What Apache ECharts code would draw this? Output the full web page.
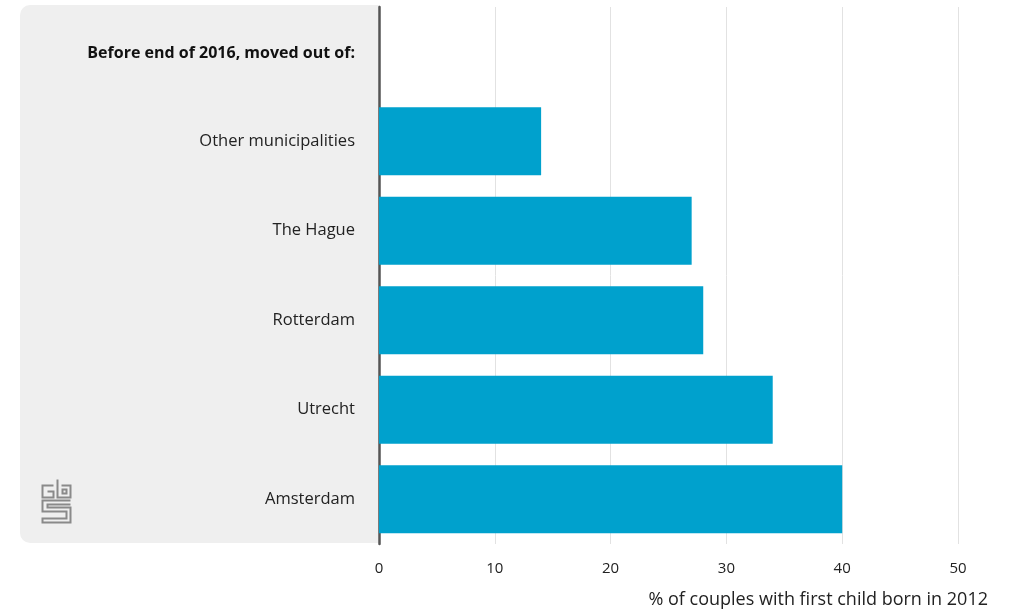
<!DOCTYPE html>
<html><head><meta charset="utf-8">
<script src="https://cdn.jsdelivr.net/npm/echarts@6/dist/echarts.min.js"></script>
<style>html,body{margin:0;padding:0;background:#fff}#c{width:1009px;height:611px}</style>
</head><body><div id="c"></div>
<script>
const headerLabel = 'Before end of 2016, moved out of:';
const categories = [headerLabel, 'Other municipalities', 'The Hague', 'Rotterdam', 'Utrecht', 'Amsterdam'];
const values = [null, 14, 27, 28, 34, 40];
const xTicks = [0, 10, 20, 30, 40, 50];
const xTitle = '% of couples with first child born in 2012';

const chart = echarts.init(document.getElementById('c'));
const FONT = 'Open Sans';
const GRID = {left: 379, right: 51, top: 7, bottom: 67};
chart.setOption({
  animation: false,
  textStyle: {fontFamily: FONT},
  graphic: [
    {type: 'rect', z: -10, shape: {x: 20, y: 5, width: 380, height: 538, r: 10}, style: {fill: '#efefef'}},
    {type: 'rect', z: -9, shape: {x: 380, y: 0, width: 40, height: 611}, style: {fill: '#fff'}},
    {type: 'group', left: 40, top: 477, children: [
      {type: 'polyline', shape: {points: [[12,6],[1,6],[1,18],[12,18],[12,12],[6,12]]}, style: {stroke: '#8a8a8a', lineWidth: 2, fill: null}},
      {type: 'polyline', shape: {points: [[16,0],[16,18],[29,18],[29,6],[20,6]]}, style: {stroke: '#8a8a8a', lineWidth: 2, fill: null}},
      {type: 'rect', shape: {x: 21, y: 10, width: 4, height: 4}, style: {stroke: '#8a8a8a', lineWidth: 2, fill: null}},
      {type: 'polyline', shape: {points: [[29,21],[1,21],[1,32],[25,32],[25,39],[1,39],[1,43],[29,43],[29,28],[6,28],[6,25],[29,25]]}, style: {stroke: '#8a8a8a', lineWidth: 2, fill: null}}
    ]},
    {type: 'text', right: 21, top: 591, style: {text: xTitle, font: '18px "Open Sans"', fill: '#222'}}
  ],
  grid: GRID,
  xAxis: {
    type: 'value', min: xTicks[0], max: xTicks[xTicks.length - 1], interval: 10,
    axisLine: {show: false}, axisTick: {show: false},
    axisLabel: {color: '#222', fontSize: 15, margin: 17, fontFamily: FONT},
    splitLine: {lineStyle: {color: '#e2e2e2', width: 1}}
  },
  yAxis: {
    type: 'category', data: categories, inverse: true,
    axisLine: {show: true, lineStyle: {color: '#555', width: 2.5}},
    axisTick: {show: false},
    axisLabel: {
      margin: 24, color: '#222', fontSize: 16.5, fontFamily: FONT,
      formatter: v => v === headerLabel ? '{b|' + v + '}' : v,
      rich: {b: {fontWeight: 'bold', fontSize: 16, color: '#111', fontFamily: FONT, padding: [4, 0, 0, 0]}}
    }
  },
  series: [{
    type: 'bar', data: values, barCategoryGap: '24%',
    itemStyle: {color: '#00a1cd'}
  }]
});
</script></body></html>
